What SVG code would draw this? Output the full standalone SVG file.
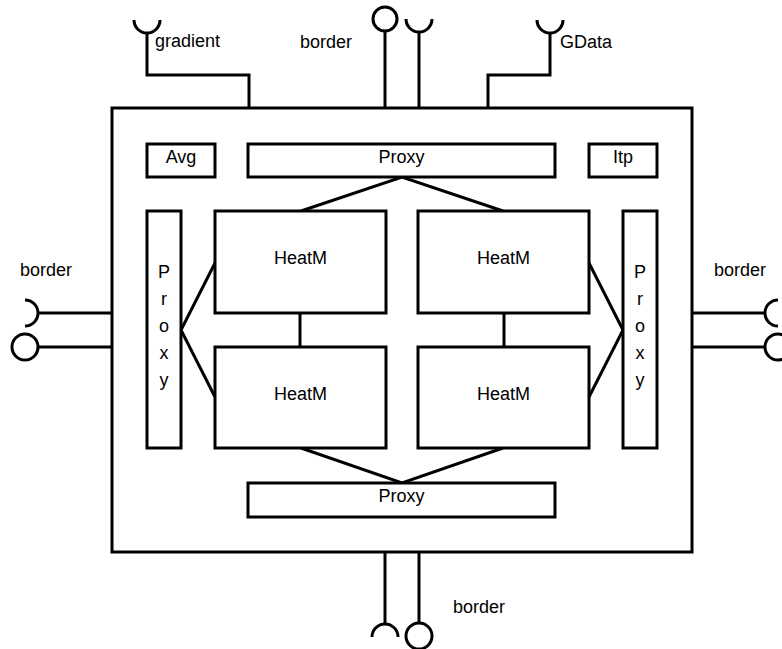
<svg xmlns="http://www.w3.org/2000/svg" width="782" height="649" viewBox="0 0 782 649">
<style>
.b{fill:#fff;stroke:#000;stroke-width:3}
.l{fill:none;stroke:#000;stroke-width:3}
.t{font-family:"Liberation Sans",Arial,sans-serif;font-size:18px;fill:#000}
.c{text-anchor:middle}
</style>
<rect width="782" height="649" fill="#fff"/>
<g id="main"><rect class="b" x="112" y="108" width="580" height="444"/></g>
<g id="connectors">
<path class="l" d="M147,33 V75 H249 V108"/>
<path class="l" d="M134,20 A13,13 0 0 0 160,20"/>
<path class="l" d="M550,33 V75 H488 V108"/>
<path class="l" d="M537,20 A13,13 0 0 0 563,20"/>
<path class="l" d="M385,31 V108"/>
<circle class="l" cx="385" cy="19" r="12"/>
<path class="l" d="M419,32 V108"/>
<path class="l" d="M406,19 A13,13 0 0 0 432,19"/>
<path class="l" d="M38,313 H112"/>
<path class="l" d="M25,300 A13,13 0 0 1 25,326"/>
<path class="l" d="M38,347 H112"/>
<circle class="l" cx="25" cy="347" r="13"/>
<path class="l" d="M692,313 H765"/>
<path class="l" d="M778,300 A13,13 0 0 0 778,326"/>
<path class="l" d="M692,347 H765"/>
<circle class="l" cx="778" cy="347" r="13"/>
<path class="l" d="M385,552 V624"/>
<path class="l" d="M372,637 A13,13 0 0 1 398,637"/>
<path class="l" d="M419,552 V623"/>
<circle class="l" cx="419" cy="636" r="13"/>
<path class="l" d="M301,211 L402,177 L503,211"/>
<path class="l" d="M301,448 L402,483 L503,448"/>
<path class="l" d="M215,263 L181,330 L215,397"/>
<path class="l" d="M589,263 L623,330 L589,397"/>
<path class="l" d="M300,313 V347"/>
<path class="l" d="M504,313 V347"/>
</g>
<g id="avg"><rect class="b" x="147" y="144" width="68" height="33"/><text class="t c" x="181" y="163">Avg</text></g>
<g id="proxy-top"><rect class="b" x="248" y="144" width="307" height="33"/><text class="t c" x="401.5" y="163">Proxy</text></g>
<g id="itp"><rect class="b" x="589" y="144" width="68" height="33"/><text class="t c" x="623" y="163">Itp</text></g>
<g id="proxy-left"><rect class="b" x="147" y="211" width="34" height="237"/>
<text class="t c" x="164" y="278">P</text><text class="t c" x="164" y="305">r</text><text class="t c" x="164" y="332">o</text><text class="t c" x="164" y="359">x</text><text class="t c" x="164" y="386">y</text></g>
<g id="proxy-right"><rect class="b" x="623" y="211" width="34" height="237"/>
<text class="t c" x="640" y="278">P</text><text class="t c" x="640" y="305">r</text><text class="t c" x="640" y="332">o</text><text class="t c" x="640" y="359">x</text><text class="t c" x="640" y="386">y</text></g>
<g id="heatm-tl"><rect class="b" x="215" y="211" width="171" height="102"/><text class="t c" x="300.5" y="264">HeatM</text></g>
<g id="heatm-tr"><rect class="b" x="418" y="211" width="171" height="102"/><text class="t c" x="503.5" y="264">HeatM</text></g>
<g id="heatm-bl"><rect class="b" x="215" y="347" width="171" height="101"/><text class="t c" x="300.5" y="400">HeatM</text></g>
<g id="heatm-br"><rect class="b" x="418" y="347" width="171" height="101"/><text class="t c" x="503.5" y="400">HeatM</text></g>
<g id="proxy-bottom"><rect class="b" x="248" y="483" width="307" height="34"/><text class="t c" x="401.5" y="502">Proxy</text></g>
<g id="labels">
<text class="t" x="155" y="47">gradient</text>
<text class="t" x="300" y="48">border</text>
<text class="t" x="560" y="48">GData</text>
<text class="t" x="20" y="276">border</text>
<text class="t" x="714" y="276">border</text>
<text class="t" x="453" y="613">border</text>
</g>
</svg>
